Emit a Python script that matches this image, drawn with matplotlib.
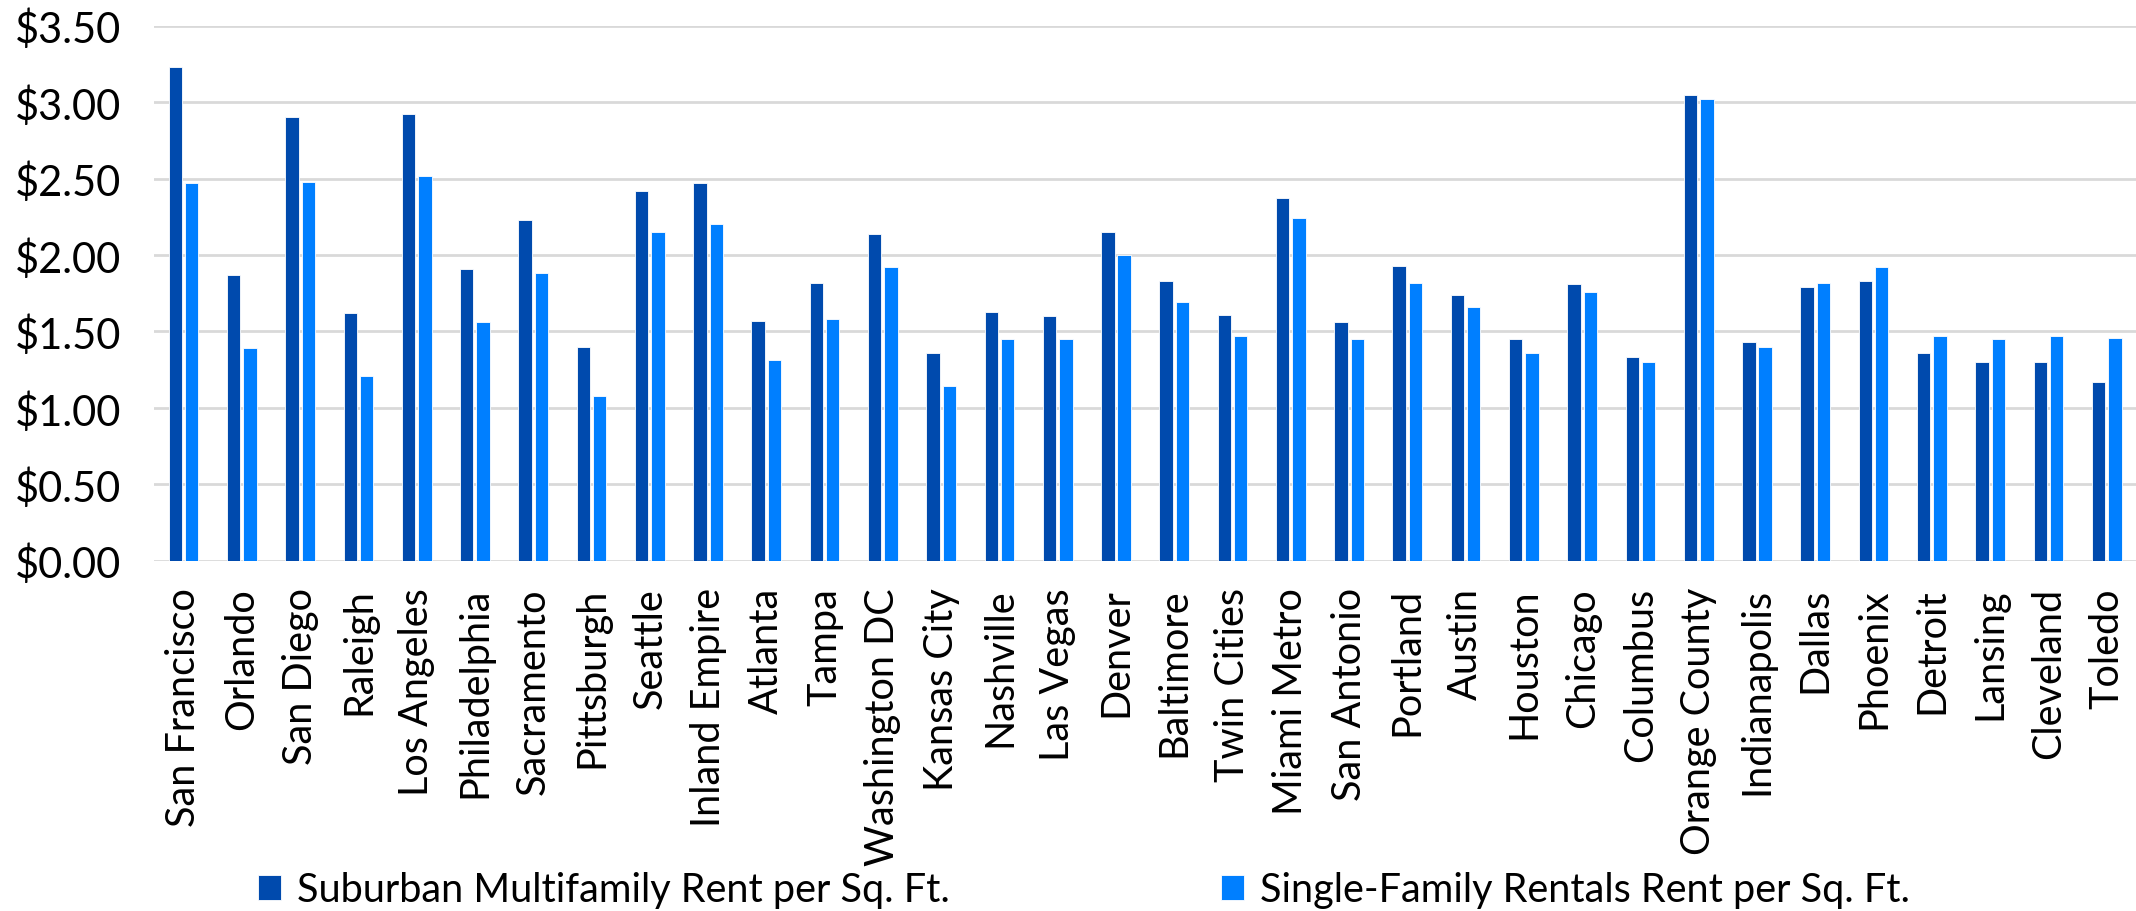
import numpy as np
import matplotlib
matplotlib.use("Agg")
import matplotlib.pyplot as plt

plt.rcParams['font.family'] = ['Lato', 'DejaVu Sans']

cities = ['San Francisco', 'Orlando', 'San Diego', 'Raleigh', 'Los Angeles',
          'Philadelphia', 'Sacramento', 'Pittsburgh', 'Seattle', 'Inland Empire',
          'Atlanta', 'Tampa', 'Washington DC', 'Kansas City', 'Nashville',
          'Las Vegas', 'Denver', 'Baltimore', 'Twin Cities', 'Miami Metro',
          'San Antonio', 'Portland', 'Austin', 'Houston', 'Chicago', 'Columbus',
          'Orange County', 'Indianapolis', 'Dallas', 'Phoenix', 'Detroit',
          'Lansing', 'Cleveland', 'Toledo']

# suburban multifamily rent per sq ft
multifamily = [3.23, 1.87, 2.90, 1.62, 2.92, 1.91, 2.23, 1.40, 2.42, 2.47,
               1.57, 1.82, 2.14, 1.36, 1.63, 1.60, 2.15, 1.83, 1.61, 2.37,
               1.56, 1.93, 1.74, 1.45, 1.81, 1.33, 3.05, 1.43, 1.79, 1.83,
               1.36, 1.30, 1.30, 1.17]

# single-family rentals rent per sq ft
single_family = [2.47, 1.39, 2.48, 1.21, 2.52, 1.56, 1.88, 1.08, 2.15, 2.20,
                 1.31, 1.58, 1.92, 1.14, 1.45, 1.45, 2.00, 1.69, 1.47, 2.24,
                 1.45, 1.82, 1.66, 1.36, 1.76, 1.30, 3.02, 1.40, 1.82, 1.92,
                 1.47, 1.45, 1.47, 1.46]

yticks = [0, 0.5, 1.0, 1.5, 2.0, 2.5, 3.0, 3.5]

dark = '#004aad'
light = '#007fff'

fig = plt.figure(figsize=(21.36, 9.12), dpi=100)
ax = fig.add_axes([0.0723, 0.3841, 0.9276, 0.5866])

x = np.arange(len(cities))
w = 0.23
ax.bar(x - 0.14, multifamily, w, color=dark, edgecolor='white', linewidth=0.6,
       label='Suburban Multifamily Rent per Sq. Ft.', zorder=3)
ax.bar(x + 0.14, single_family, w, color=light, edgecolor='white', linewidth=0.6,
       label='Single-Family Rentals Rent per Sq. Ft.', zorder=3)

ax.set_xlim(-0.5, len(cities) - 0.5)
ax.set_ylim(0, 3.5)
ax.set_yticks(yticks)
ax.set_yticklabels([f'${v:.2f}' for v in yticks], fontsize=30)
ax.set_xticks(x)
ax.set_xticklabels(cities, rotation=90, fontsize=28.5)
ax.tick_params(axis='both', length=0)
ax.tick_params(axis='y', pad=24)
ax.tick_params(axis='x', pad=19)

ax.grid(axis='y', color='#d9d9d9', linewidth=2, zorder=0)
for s in ax.spines.values():
    s.set_visible(False)

fig.legend(loc='center', bbox_to_anchor=(0.5075, 1 - 891 / 912), ncol=2,
           frameon=False, fontsize=28.5, handlelength=0.58, handleheight=0.58,
           handletextpad=0.4, columnspacing=6.85)

fig.savefig('out.png', dpi=100)
